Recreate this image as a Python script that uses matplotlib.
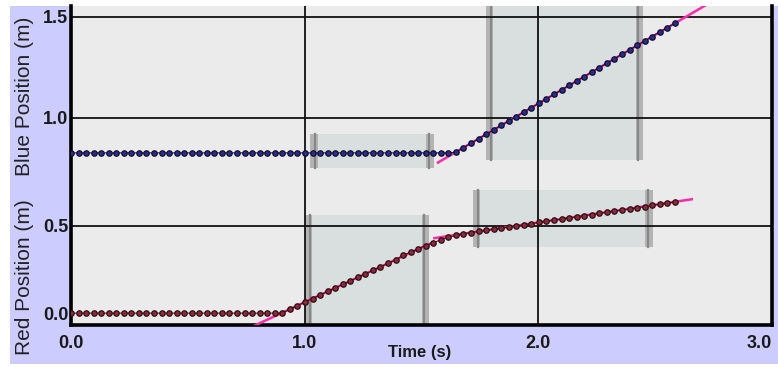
import matplotlib
matplotlib.use("Agg")
import matplotlib.pyplot as plt
from matplotlib.patches import Rectangle
import numpy as np

# ---------------- data ----------------
SAMPLE_DT = 0.0323  # seconds between samples

red_pos = [0.005, 0.005, 0.005, 0.005, 0.005, 0.005, 0.005, 0.005, 0.005, 0.005,
           0.005, 0.005, 0.005, 0.005, 0.005, 0.005, 0.005, 0.005, 0.005, 0.005,
           0.005, 0.005, 0.005, 0.005, 0.005, 0.005, 0.005, 0.005, 0.005,
           0.028, 0.048, 0.068, 0.088, 0.108, 0.128, 0.148, 0.168, 0.188, 0.208,
           0.228, 0.248, 0.268, 0.288, 0.308, 0.333, 0.352, 0.371, 0.389, 0.405,
           0.422, 0.436, 0.447, 0.456, 0.463, 0.469, 0.475, 0.481, 0.488, 0.494,
           0.501, 0.507, 0.514, 0.520, 0.526, 0.533, 0.539, 0.546, 0.552, 0.559,
           0.565, 0.572, 0.578, 0.584, 0.591, 0.597, 0.604, 0.610, 0.617, 0.623,
           0.630, 0.636]

blue_pos = [0.827, 0.827, 0.827, 0.827, 0.827, 0.827, 0.827, 0.827, 0.827, 0.827,
            0.827, 0.827, 0.827, 0.827, 0.827, 0.827, 0.827, 0.827, 0.827, 0.827,
            0.827, 0.827, 0.827, 0.827, 0.827, 0.827, 0.827, 0.827, 0.827, 0.827,
            0.827, 0.827, 0.827, 0.827, 0.827, 0.827, 0.827, 0.827, 0.827, 0.827,
            0.827, 0.827, 0.827, 0.827, 0.827, 0.827, 0.827, 0.827, 0.827, 0.827,
            0.827,
            0.831, 0.853, 0.875, 0.897, 0.919, 0.941, 0.963, 0.985, 1.007, 1.029,
            1.051, 1.073, 1.095, 1.117, 1.139, 1.161, 1.183, 1.205, 1.227, 1.249,
            1.271, 1.293, 1.315, 1.337, 1.359, 1.381, 1.403, 1.425, 1.447, 1.469]

# linear fit lines (time endpoints, position endpoints)
blue_fit_t = [1.566, 2.75]
blue_fit_pos = [0.776, 1.581]
red_fit1_t = [0.75, 1.55]
red_fit1_pos = [-0.088, 0.408]
red_fit2_t = [1.55, 2.662]
red_fit2_pos = [0.430, 0.653]

# selected regions: (t_start, t_end, pos_low, pos_high)
blue_regions = [(1.023, 1.553, 0.752, 0.921), (1.776, 2.448, 0.792, 1.60)]
red_regions = [(1.000, 1.533, -0.07, 0.5625), (1.719, 2.490, 0.381, 0.705)]

x_ticks = [0.0, 1.0, 2.0, 3.0]
x_labels = ["0.0", "1.0", "2.0", "3.0"]
red_ticks = [0.0, 0.5]
red_labels = ["0.0", "0.5"]
blue_ticks = [1.0, 1.5]
blue_labels = ["1.0", "1.5"]

time = np.arange(len(red_pos)) * SAMPLE_DT

# ---------------- figure ----------------
W, H = 778, 367
plt.rcParams["font.family"] = ["Liberation Sans", "DejaVu Sans"]
fig = plt.figure(figsize=(W / 100, H / 100), dpi=100)
fig.patch.set_facecolor("white")
fig.patches.append(Rectangle((10 / W, 3 / H), 768 / W, 358 / H, transform=fig.transFigure,
                             facecolor="#ccccff", edgecolor="none", zorder=-10))

ax = fig.add_axes([71 / W, 42 / H, 701 / W, 319 / H])
ax.set_facecolor("#ebebeb")
axb = ax.twinx()
ax.set_xlim(0, 3)
ax.set_ylim(-0.0625, 1.75)
axb.set_ylim(-0.0248, 1.554)

tb = axb.transData
bar_w = 0.032

def draw_region(r, trans):
    t0, t1, lo, hi = r
    ax.add_patch(Rectangle((t0, lo), t1 - t0, hi - lo, transform=trans,
                           facecolor="#d9dedf", edgecolor="none", zorder=0.5))
    for bx, off in ((t0, 0.65), (t1 - bar_w, 0.35)):
        ax.add_patch(Rectangle((bx, lo), bar_w, hi - lo, transform=trans,
                               facecolor="#b4b4b4", edgecolor="none", zorder=0.6))
        ax.plot([bx + bar_w * off, bx + bar_w * off], [lo, hi], transform=trans,
                color="#878787", lw=1.6, zorder=0.7)

for r in red_regions:
    draw_region(r, ax.transData)
for r in blue_regions:
    draw_region(r, tb)

# grid lines
grid_kw = dict(color="#111111", lw=1.3, zorder=1)
ax.axvline(1.0, **grid_kw)
ax.axvline(2.0, **grid_kw)
ax.axhline(0.5, **grid_kw)
for yv in blue_ticks:
    ax.plot([0, 3], [yv, yv], transform=tb, **grid_kw)

# fit lines
fit_kw = dict(color="#ff2aa8", lw=1.8, zorder=3, solid_capstyle="butt")
ax.plot(blue_fit_t, blue_fit_pos, transform=tb, **fit_kw)
ax.plot(red_fit1_t, red_fit1_pos, **fit_kw)
ax.plot(red_fit2_t, red_fit2_pos, **fit_kw)

# data
ax.plot(time, red_pos, "-", color="#3a0a10", lw=0.7, marker="o", ms=3.9,
        mfc="#902838", mec="#2a1014", mew=0.9, zorder=4)
ax.plot(time, blue_pos, "-", color="#0a0a3a", lw=0.7, marker="o", ms=3.9,
        mfc="#2c2c90", mec="#10102a", mew=0.9, transform=tb, zorder=4)

# spines
for s in ["left", "bottom", "right"]:
    ax.spines[s].set_linewidth(2.6)
    ax.spines[s].set_color("#000000")
ax.spines["top"].set_visible(False)
for s in axb.spines.values():
    s.set_visible(False)

tick_font = dict(fontsize=13, fontweight="bold", color="#1a1a1a")
ax.set_xticks(x_ticks)
ax.set_xticklabels(x_labels, **tick_font)
ax.get_xticklabels()[-1].set_horizontalalignment("right")
ax.tick_params(axis="x", length=0, pad=7)

ax.set_yticks(red_ticks)
ax.set_yticklabels(red_labels, **tick_font)
ax.tick_params(axis="y", length=0, pad=2)

axb.yaxis.tick_left()
axb.set_yticks(blue_ticks)
axb.set_yticklabels(blue_labels, **tick_font)
axb.tick_params(axis="y", length=0, pad=2, labelleft=True, labelright=False)

fig.text(25 / W, 1 - 96 / H, "Blue Position (m)", rotation=90, ha="center", va="center",
         fontsize=15, color="#222222")
fig.text(25 / W, 1 - 277 / H, "Red Position (m)", rotation=90, ha="center", va="center",
         fontsize=15, color="#222222")
fig.text(420 / W, 1 - 353 / H, "Time (s)", ha="center", va="center",
         fontsize=12, fontweight="bold", color="#1a1a1a")

fig.savefig("out.png", dpi=100)
